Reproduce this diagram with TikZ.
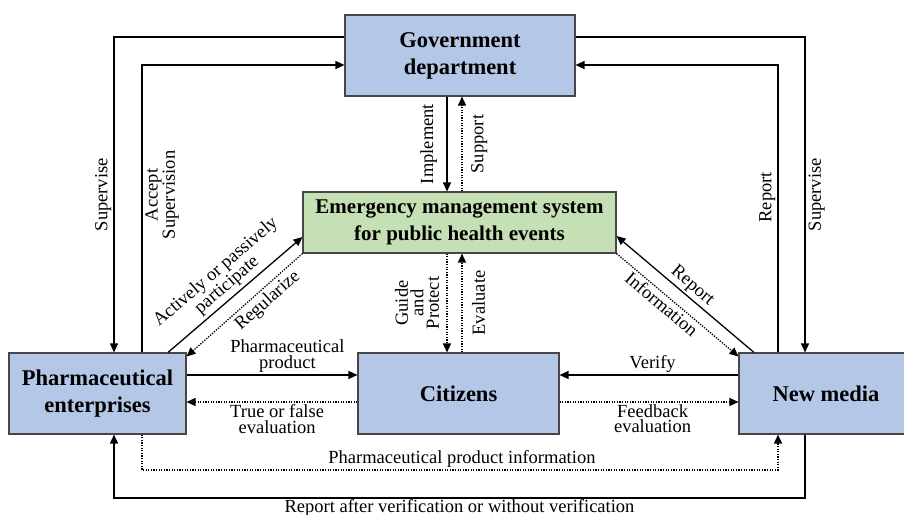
\documentclass[tikz,border=0pt]{standalone}
\usepackage{fontspec}
\setmainfont{Liberation Serif}
\usetikzlibrary{arrows.meta,calc}
\definecolor{boxblue}{RGB}{180,199,231}
\definecolor{boxgreen}{RGB}{197,224,180}
\definecolor{boxline}{RGB}{70,70,70}
\tikzset{
  box/.style={draw=boxline, line width=1.1pt, fill=boxblue, align=center, inner sep=0pt,
              font=\fontsize{22.5}{27}\selectfont\bfseries},
  gbox/.style={box, fill=boxgreen, font=\fontsize{21}{27}\selectfont\bfseries},
  arr/.style={line width=1.3pt, -{Triangle[length=9pt,width=8pt]}},
  darr/.style={line width=1.3pt, dash pattern=on 1.3pt off 1.3pt, -{Triangle[length=9pt,width=8pt]}},
  lbl/.style={font=\fontsize{18.5}{15.5}\selectfont, inner sep=2pt, align=center},
}
\begin{document}
\begin{tikzpicture}[x=1pt,y=-1pt]
\useasboundingbox (0,0) rectangle (904,514);
% boxes
\node[box, minimum width=230pt, minimum height=81pt] (gov) at (460,55.5) {Government\\department};
\node[gbox, minimum width=313pt, minimum height=61pt] (em) at (459.5,222.5) {Emergency management system\\for public health events};
\node[box, minimum width=177pt, minimum height=81pt] (ph) at (97.5,393.5) {Pharmaceutical\\enterprises};
\node[box, minimum width=201pt, minimum height=81pt] (ci) at (458.5,393.5) {Citizens};
\node[box, minimum width=174pt, minimum height=81pt] (nm) at (826,393.5) {New media};
% helper coordinates
\coordinate (cL1) at (114,0);
\coordinate (cL2) at (142,0);
\coordinate (cR1) at (805,0);
\coordinate (cR2) at (778,0);
\coordinate (v1) at (447,0);
\coordinate (v2) at (462,0);
\coordinate (rT1) at (0,37);
\coordinate (rT2) at (0,65);
\coordinate (h1) at (0,375);
\coordinate (h2) at (0,402);
\coordinate (rB1) at (0,470);
\coordinate (rB2) at (0,498);
% outer loops top
\draw[arr] (gov.west |- rT1) -| (ph.north -| cL1)
  node[lbl, pos=0.75, rotate=90, anchor=south] {Supervise};
\draw[arr] (ph.north -| cL2) |- (gov.west |- rT2)
  node[lbl, pos=0.274, rotate=90, anchor=north, outer sep=1.5pt] {Accept\\Supervision};
\draw[arr] (gov.east |- rT1) -| (nm.north -| cR1)
  node[lbl, pos=0.75, rotate=90, anchor=north, outer sep=1.5pt] {Supervise};
\draw[arr] (nm.north -| cR2) |- (gov.east |- rT2)
  node[lbl, pos=0.27, rotate=90, anchor=south] {Report};
% government <-> emergency
\draw[arr] (gov.south -| v1) -- (em.north -| v1)
  node[lbl, midway, rotate=90, anchor=south, outer sep=8pt] {Implement};
\draw[darr] (em.north -| v2) -- (gov.south -| v2)
  node[lbl, midway, rotate=90, anchor=north, outer sep=7pt] {Support};
% emergency <-> citizens
\draw[darr] (em.south -| v1) -- (ci.north -| v1)
  node[lbl, midway, rotate=90, anchor=south, outer sep=6pt] {Guide\\and\\Protect};
\draw[darr] (ci.north -| v2) -- (em.south -| v2)
  node[lbl, midway, rotate=90, anchor=north, outer sep=8pt] {Evaluate};
% pharma <-> emergency
\draw[arr] ([xshift=70.5pt]ph.north) -- ([yshift=-14.5pt]em.west)
  node[lbl, midway, sloped, above, outer sep=2pt] {Actively or passively\\participate};
\draw[darr] (em.south west) -- ([yshift=-4pt]ph.north east)
  node[lbl, pos=0.37, sloped, below, outer sep=2pt] {Regularize};
% new media <-> emergency
\draw[arr] ([xshift=-72pt]nm.north) -- ([yshift=-13.5pt]em.east)
  node[lbl, midway, sloped, above] {Report};
\draw[darr] (em.south east) -- ([yshift=-4pt]nm.north west)
  node[lbl, pos=0.42, sloped, below] {Information};
% horizontal
\draw[arr] (ph.east |- h1) -- (ci.west |- h1)
  node[lbl, pos=0.59, above] {Pharmaceutical\\product};
\draw[darr] (ci.west |- h2) -- (ph.east |- h2)
  node[lbl, pos=0.47, below] {True or false\\evaluation};
\draw[arr] (nm.west |- h1) -- (ci.east |- h1)
  node[lbl, pos=0.48, above] {Verify};
\draw[darr] (ci.east |- h2) -- (nm.west |- h2)
  node[lbl, pos=0.52, below] {Feedback\\evaluation};
% bottom loops
\draw[darr] (ph.south -| cL2) -- (cL2 |- rB1) -- (cR2 |- rB1)
  node[lbl, pos=0.503, above] {Pharmaceutical product information}
  -- (nm.south -| cR2);
\draw[arr] (nm.south -| cR1) -- (cR1 |- rB2) -- (cL1 |- rB2)
  node[lbl, pos=0.5, below, inner sep=1pt] {Report after verification or without verification}
  -- (ph.south -| cL1);
\end{tikzpicture}
\end{document}
